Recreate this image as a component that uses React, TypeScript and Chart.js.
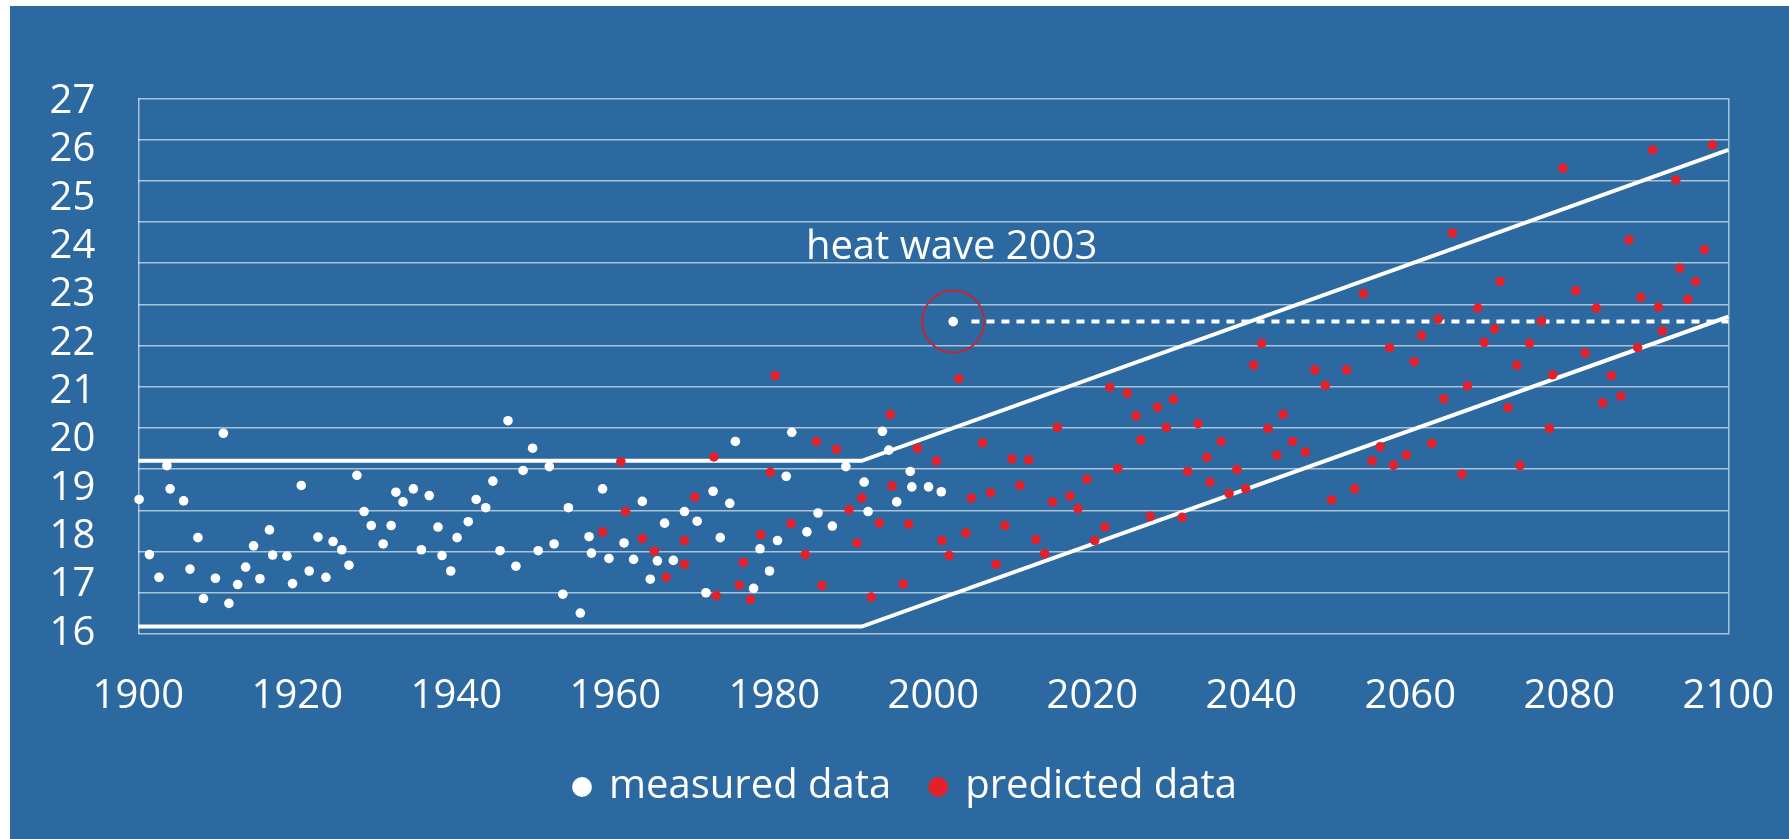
import React, { useEffect, useRef } from "react";
import { Chart, registerables } from "chart.js";

Chart.register(...registerables);

// ---------- data ----------
const MEASURED_YEARS = [
  1900.1, 1901.4, 1902.6, 1903.6, 1904.0, 1905.7, 1906.5, 1907.5, 1908.2, 1909.7,
  1910.7, 1911.4, 1912.5, 1913.5, 1914.5, 1915.3, 1916.5, 1916.9, 1918.7, 1919.4,
  1920.5, 1921.5, 1922.6, 1923.6, 1924.5, 1925.6, 1926.5, 1927.5, 1928.4, 1929.3,
  1930.8, 1931.8, 1932.4, 1933.3, 1934.6, 1935.6, 1936.6, 1937.7, 1938.2, 1939.3,
  1940.1, 1941.5, 1942.5, 1943.7, 1944.6, 1945.5, 1946.5, 1947.5, 1948.4, 1949.6,
  1950.3, 1951.7, 1952.3, 1953.4, 1954.1, 1955.6, 1956.7, 1957.0, 1958.4, 1959.2,
  1961.1, 1962.3, 1963.4, 1964.4, 1965.3, 1966.2, 1967.3, 1968.7, 1970.3, 1971.4,
  1972.3, 1973.2, 1974.4, 1975.1, 1977.4, 1978.2, 1979.4, 1980.4, 1981.5, 1982.2,
  1984.1, 1985.5, 1987.3, 1989.0, 1991.3, 1991.8, 1993.6, 1994.4, 1995.4, 1997.1,
  1997.3, 1999.4, 2001.0, 2002.5,
];
const MEASURED_TEMPS = [
  18.77, 17.63, 17.16, 19.47, 18.99, 18.74, 17.33, 17.98, 16.72, 17.14,
  20.14, 16.62, 17.01, 17.37, 17.81, 17.13, 18.14, 17.62, 17.6, 17.03,
  19.06, 17.29, 17.99, 17.16, 17.9, 17.73, 17.41, 19.27, 18.52, 18.23,
  17.85, 18.23, 18.92, 18.72, 18.99, 17.73, 18.85, 18.2, 17.61, 17.29,
  17.98, 18.31, 18.77, 18.6, 19.15, 17.71, 20.4, 17.39, 19.37, 19.83,
  17.71, 19.45, 17.85, 16.81, 18.6, 16.42, 18.0, 17.66, 18.99, 17.55,
  17.87, 17.53, 18.73, 17.12, 17.5, 18.28, 17.51, 18.52, 18.32, 16.84,
  18.94, 17.98, 18.69, 19.97, 16.93, 17.75, 17.29, 17.92, 19.25, 20.16,
  18.1, 18.49, 18.22, 19.45, 19.13, 18.52, 20.18, 19.79, 18.72, 19.35,
  19.03, 19.03, 18.93, 22.45,
];

const PREDICTED_YEARS = [
  1958.4, 1960.7, 1961.3, 1963.4, 1964.9, 1966.4, 1968.7, 1968.7, 1970.0, 1972.4,
  1972.7, 1975.6, 1976.1, 1977.0, 1978.3, 1979.5, 1980.1, 1982.1, 1983.9, 1985.3,
  1986.0, 1987.8, 1989.4, 1990.4, 1991.0, 1992.2, 1993.2, 1994.6, 1994.8, 1996.2,
  1996.9, 1998.0, 2000.4, 2001.1, 2002.0, 2003.2, 2004.1, 2004.8, 2006.2, 2007.2,
  2007.9, 2009.0, 2009.9, 2010.9, 2012.0, 2012.9, 2014.0, 2015.0, 2015.6, 2017.2,
  2018.2, 2019.3, 2020.3, 2021.6, 2022.2, 2023.2, 2024.4, 2025.5, 2026.1, 2027.3,
  2028.2, 2029.3, 2030.2, 2031.3, 2032.0, 2033.3, 2034.4, 2034.8, 2036.2, 2037.2,
  2038.2, 2039.3, 2040.3, 2041.3, 2042.1, 2043.2, 2044.0, 2045.2, 2046.8, 2048.0,
  2049.3, 2050.1, 2052.0, 2053.0, 2054.1, 2055.2, 2056.2, 2057.4, 2057.9, 2059.5,
  2060.5, 2061.4, 2062.7, 2063.5, 2064.2, 2065.3, 2066.5, 2067.2, 2068.5, 2069.3,
  2070.6, 2071.3, 2072.3, 2073.4, 2073.8, 2075.0, 2076.5, 2077.5, 2077.9, 2079.2,
  2080.8, 2082.0, 2083.4, 2084.2, 2085.3, 2086.5, 2087.5, 2088.6, 2089.0, 2090.5,
  2091.2, 2091.7, 2093.4, 2093.9, 2094.9, 2095.9, 2097.0, 2098.0,
];
const PREDICTED_TEMPS = [
  18.1, 19.55, 18.52, 17.96, 17.7, 17.16, 17.92, 17.43, 18.82, 19.65,
  16.78, 17.0, 17.47, 16.7, 18.04, 19.33, 21.33, 18.27, 17.63, 19.97,
  16.99, 19.81, 18.56, 17.87, 18.8, 16.75, 18.28, 20.53, 19.05, 17.02,
  18.26, 19.83, 19.57, 17.92, 17.61, 21.27, 18.08, 18.8, 19.94, 18.91,
  17.43, 18.23, 19.61, 19.06, 19.59, 17.94, 17.65, 18.72, 20.26, 18.84,
  18.58, 19.19, 17.92, 18.2, 21.09, 19.41, 20.97, 20.5, 20.0, 18.42,
  20.68, 20.26, 20.84, 18.4, 19.35, 20.34, 19.64, 19.13, 19.97, 18.89,
  19.39, 18.99, 21.55, 22.0, 20.24, 19.69, 20.53, 19.97, 19.75, 21.45,
  21.13, 18.76, 21.45, 18.99, 23.03, 19.57, 19.86, 21.91, 19.48, 19.69,
  21.62, 22.16, 19.93, 22.5, 20.85, 24.28, 19.29, 21.12, 22.73, 22.02,
  22.3, 23.28, 20.67, 21.55, 19.47, 22.0, 22.46, 20.24, 21.35, 25.62,
  23.09, 21.8, 22.73, 20.77, 21.33, 20.91, 24.14, 21.91, 22.95, 26.0,
  22.75, 22.26, 25.38, 23.55, 22.91, 23.28, 23.94, 26.1,
];

const UPPER_BOUND_YEARS = [1900, 1991, 2100];
const UPPER_BOUND_TEMPS = [19.57, 19.57, 26.0];
const LOWER_BOUND_YEARS = [1900, 1991, 2100];
const LOWER_BOUND_TEMPS = [16.14, 16.14, 22.55];

const HEAT_WAVE_YEAR = 2002.5;
const HEAT_WAVE_TEMP = 22.45;
const HEAT_LINE_YEARS = [2004.8, 2100];
const HEAT_LABEL = "heat wave 2003";
const HEAT_LABEL_YEAR = 2002.3;
const HEAT_LABEL_TEMP = 23.74;

const X_TICKS = [1900, 1920, 1940, 1960, 1980, 2000, 2020, 2040, 2060, 2080, 2100];
const Y_TICKS = [16, 17, 18, 19, 20, 21, 22, 23, 24, 25, 26, 27];
const LEGEND_LABELS = ["measured data", "predicted data"];

// ---------- styling ----------
const W = 1789;
const H = 839;
const BLUE = "#2c69a0";
const GRID = "rgba(255,255,255,0.6)";
const RED = "#e4202a";
const CIRCLE_RED = "#c0283a";
const FONT = "'Open Sans', 'Noto Sans', sans-serif";

const CHART_LEFT = 138.3;
const CHART_RIGHT = 1728.3;
const CHART_TOP = 98.3;
const CHART_BOTTOM = 633.9;
const PAD_L = 30;
const PAD_R = 7;
const PAD_B = 22;

const zip = (xs: number[], ys: number[]) => xs.map((x, i) => ({ x, y: ys[i] }));

const heatLabelPlugin = {
  id: "heatLabel",
  afterDatasetsDraw(chart: any) {
    const { ctx, scales } = chart;
    const px = scales.x.getPixelForValue(HEAT_LABEL_YEAR);
    const py = scales.y.getPixelForValue(HEAT_LABEL_TEMP);
    ctx.save();
    ctx.fillStyle = "#ffffff";
    ctx.font = `40px ${FONT}`;
    ctx.textAlign = "center";
    ctx.textBaseline = "alphabetic";
    ctx.fillText(HEAT_LABEL, px, py);
    ctx.restore();
  },
};

export default function App() {
  const canvasRef = useRef<HTMLCanvasElement | null>(null);

  useEffect(() => {
    const canvas = canvasRef.current;
    if (!canvas) return;
    const chart = new Chart(canvas, {
      type: "scatter",
      data: {
        datasets: [
          {
            label: LEGEND_LABELS[0],
            data: zip(MEASURED_YEARS, MEASURED_TEMPS),
            backgroundColor: "#ffffff",
            borderColor: "#ffffff",
            borderWidth: 0,
            pointRadius: 4.8,
            pointStyle: "circle",
            order: 1,
            clip: false,
          },
          {
            label: LEGEND_LABELS[1],
            data: zip(PREDICTED_YEARS, PREDICTED_TEMPS),
            backgroundColor: RED,
            borderColor: RED,
            borderWidth: 0,
            pointRadius: 4.8,
            pointStyle: "circle",
            order: 1,
            clip: false,
          },
          {
            label: "upper",
            data: zip(UPPER_BOUND_YEARS, UPPER_BOUND_TEMPS),
            showLine: true,
            borderColor: "#ffffff",
            borderWidth: 4,
            pointRadius: 0,
            order: 2,
            clip: false,
          },
          {
            label: "lower",
            data: zip(LOWER_BOUND_YEARS, LOWER_BOUND_TEMPS),
            showLine: true,
            borderColor: "#ffffff",
            borderWidth: 4,
            pointRadius: 0,
            order: 2,
            clip: false,
          },
          {
            label: "heat line",
            data: zip(HEAT_LINE_YEARS, [HEAT_WAVE_TEMP, HEAT_WAVE_TEMP]),
            showLine: true,
            borderColor: "#ffffff",
            borderWidth: 4,
            borderDash: [8, 7],
            pointRadius: 0,
            order: 2,
            clip: false,
          },
          {
            label: "heat circle",
            data: [{ x: HEAT_WAVE_YEAR, y: HEAT_WAVE_TEMP }],
            backgroundColor: "rgba(0,0,0,0)",
            borderColor: CIRCLE_RED,
            borderWidth: 2,
            pointRadius: 31,
            order: 0,
            clip: false,
          },
        ],
      },
      options: {
        responsive: false,
        animation: false,
        devicePixelRatio: 1,
        events: [],
        layout: { padding: { left: PAD_L, right: PAD_R, top: CHART_TOP, bottom: PAD_B } },
        plugins: {
          tooltip: { enabled: false },
          legend: {
            display: true,
            position: "bottom",
            labels: {
              color: "#ffffff",
              font: { family: FONT, size: 40 },
              usePointStyle: true,
              pointStyle: "circle",
              boxWidth: 14,
              boxHeight: 14,
              padding: 40,
              filter: (item: any) => item.datasetIndex < 2,
            },
          },
        },
        scales: {
          x: {
            type: "linear",
            position: "bottom",
            min: 1900,
            max: 2100,
            afterBuildTicks: (s: any) => {
              s.ticks = X_TICKS.map((v) => ({ value: v }));
            },
            afterFit: (s: any) => {
              const legendH = s.chart.legend ? s.chart.legend.height : 0;
              s.height = H - PAD_B - legendH - CHART_BOTTOM;
            },
            ticks: {
              color: "#ffffff",
              font: { family: FONT, size: 40 },
              padding: 0,
              autoSkip: false,
              maxRotation: 0,
              callback: (v: any) => String(v),
            },
            grid: { display: false, drawTicks: true, tickLength: 38.5 },
            border: { display: false },
          },
          y: {
            type: "linear",
            position: "left",
            min: 15.989,
            max: 27.069,
            afterBuildTicks: (s: any) => {
              s.ticks = Y_TICKS.map((v) => ({ value: v }));
            },
            afterFit: (s: any) => {
              s.width = CHART_LEFT - PAD_L;
            },
            ticks: {
              color: "#ffffff",
              font: { family: FONT, size: 40 },
              padding: 0,
              autoSkip: false,
              callback: (v: any) => String(v),
            },
            grid: { display: false, drawTicks: true, tickLength: 43 },
            border: { display: true, color: GRID, width: 1.5 },
          },
          yg: {
            type: "linear",
            position: "right",
            min: 0,
            max: 13,
            afterFit: (s: any) => {
              s.width = W - PAD_R - CHART_RIGHT;
            },
            ticks: { display: false, stepSize: 1, padding: 0 },
            grid: { display: true, color: GRID, lineWidth: 1.5, drawTicks: false },
            border: { display: true, color: GRID, width: 1.5 },
          },
        },
      },
      plugins: [heatLabelPlugin],
    } as any);
    return () => chart.destroy();
  }, []);

  return (
    <div
      style={{
        position: "fixed",
        left: 0,
        top: 0,
        width: W,
        height: H,
        background: "#ffffff",
        overflow: "hidden",
      }}
    >
      <div
        style={{ position: "absolute", left: 10, top: 6, right: 0, bottom: 0, background: BLUE }}
      />
      <canvas
        ref={canvasRef}
        width={W}
        height={H}
        style={{ position: "absolute", left: 0, top: 0, width: W, height: H }}
      />
    </div>
  );
}
